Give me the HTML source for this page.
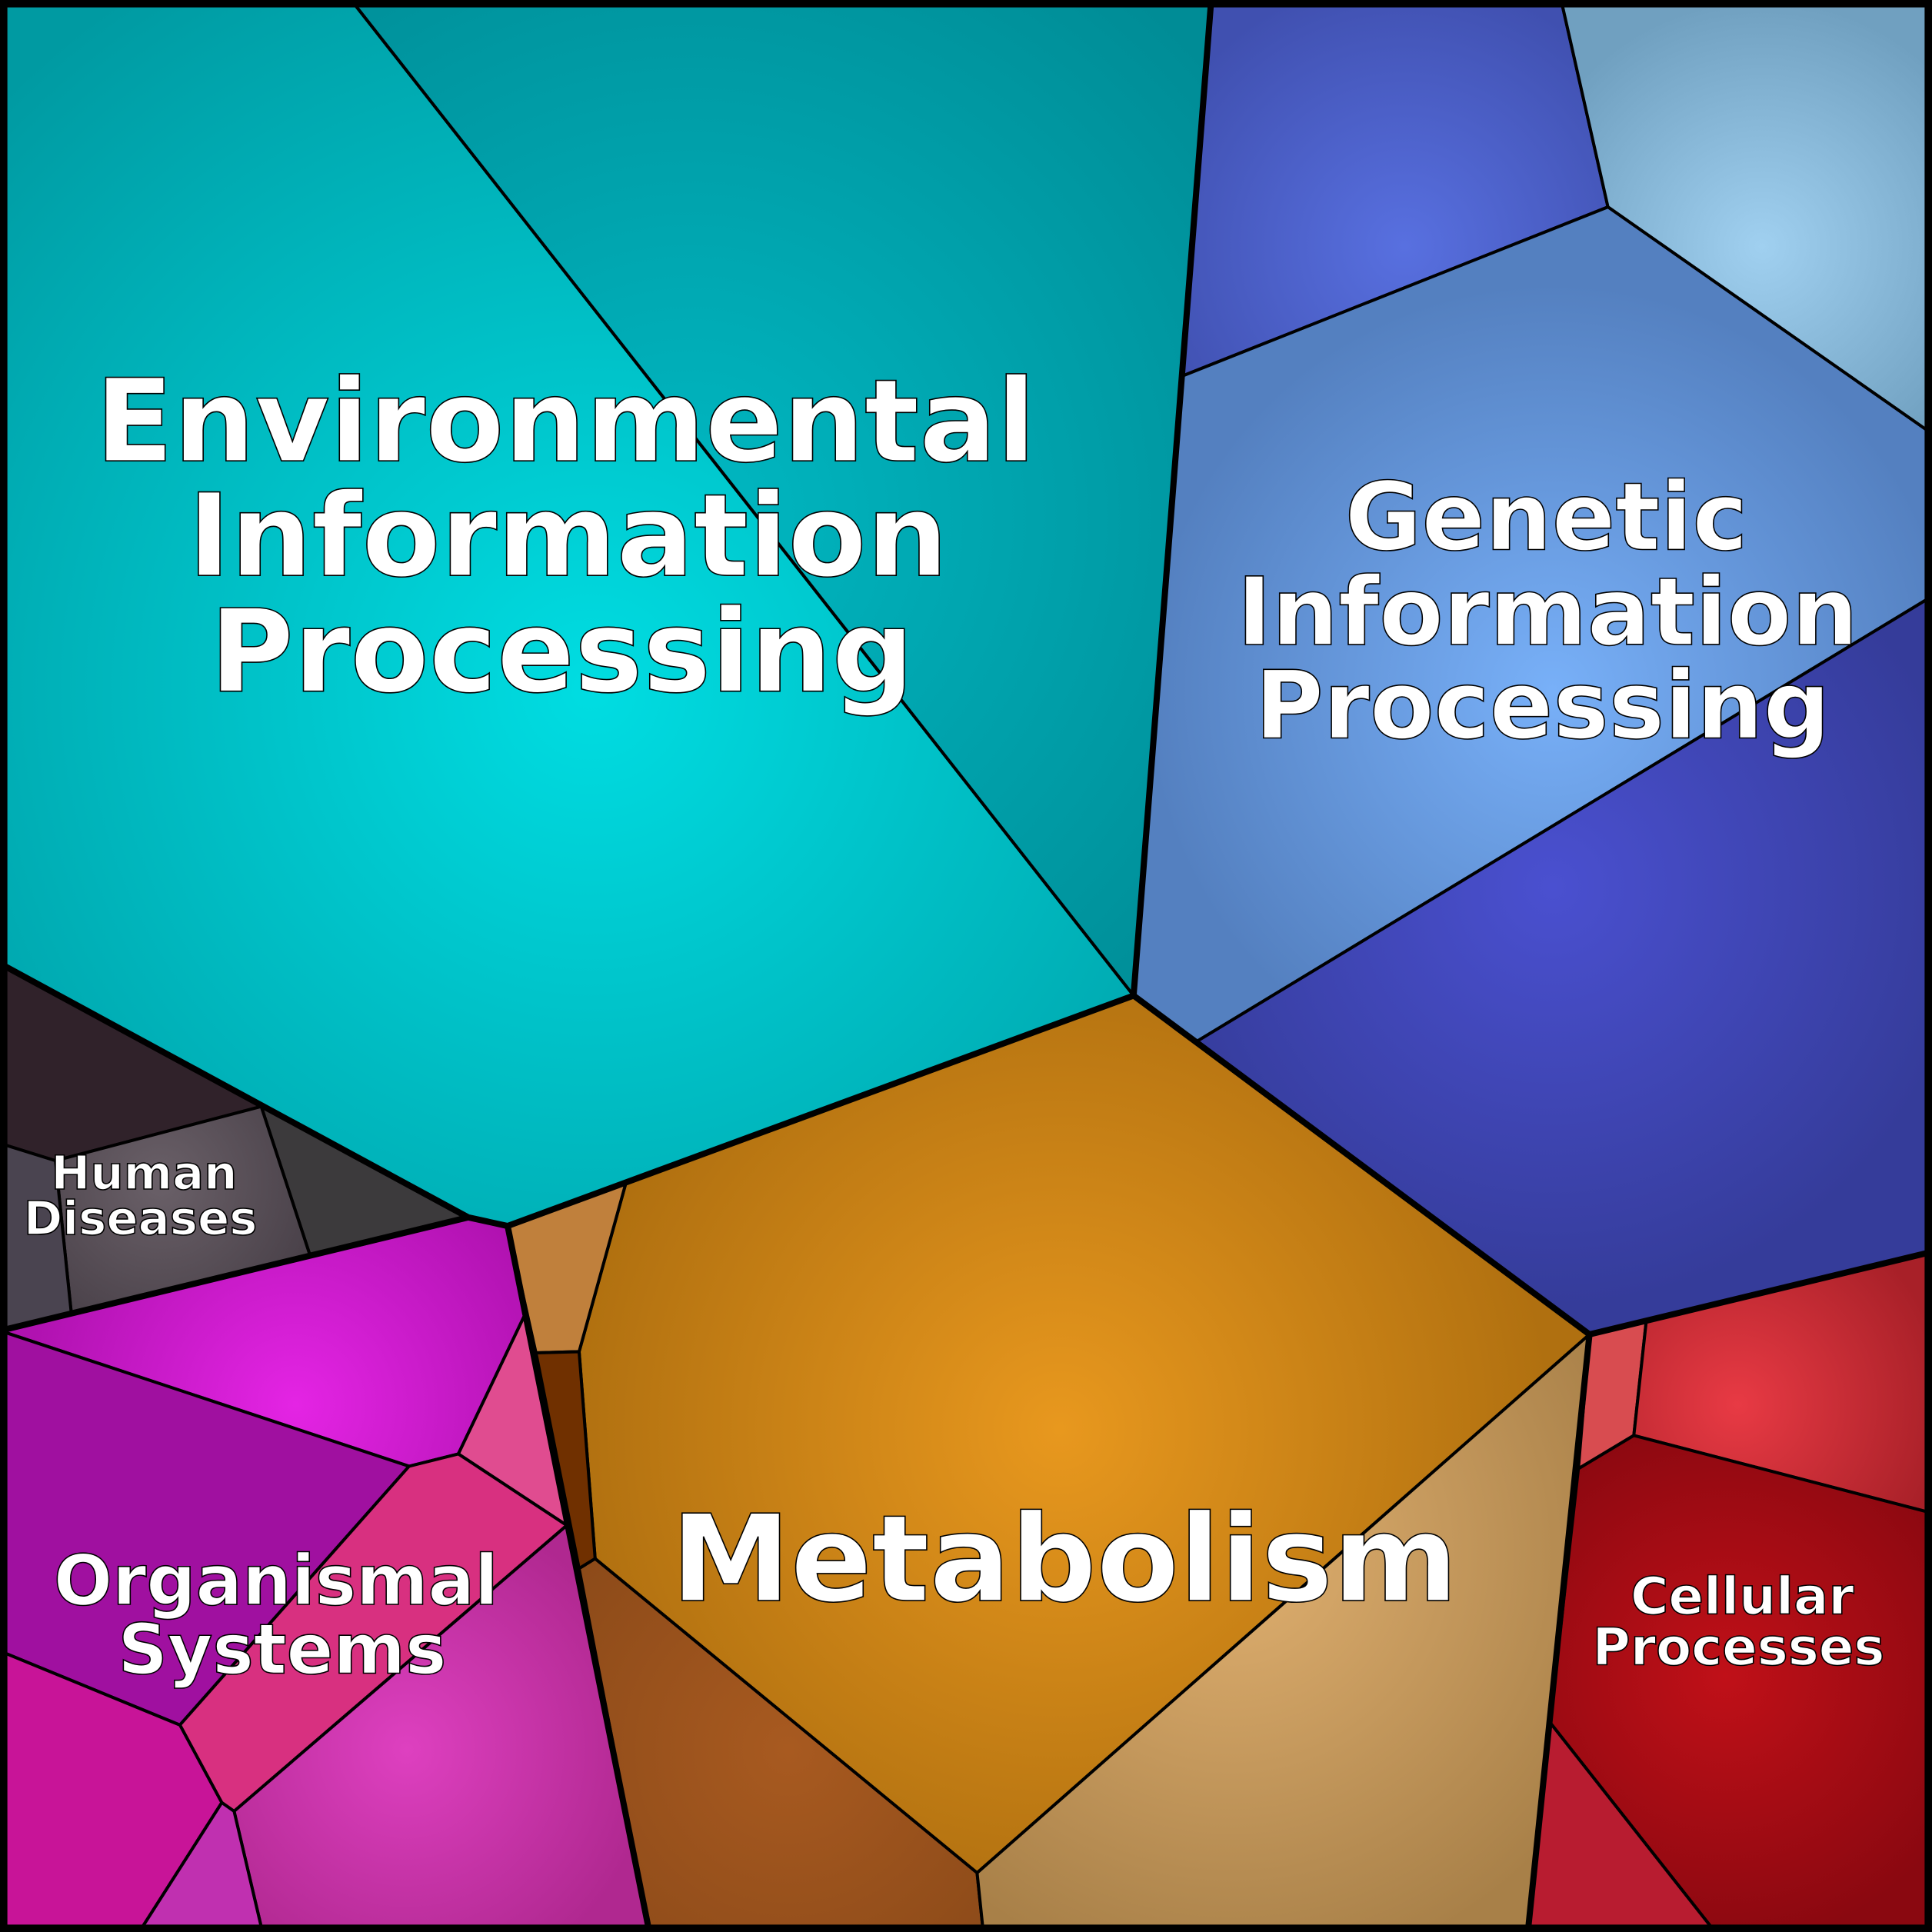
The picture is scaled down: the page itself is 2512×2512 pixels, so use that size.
<!DOCTYPE html>
<html><head><meta charset="utf-8"><style>html,body{margin:0;padding:0;background:#fff}svg{display:block}</style></head>
<body>
<svg width="2512" height="2512" viewBox="0 0 1568 1568" xmlns="http://www.w3.org/2000/svg">
<defs>
<radialGradient id="env" gradientUnits="userSpaceOnUse" cx="480" cy="560" r="680"><stop offset="0" stop-color="#00dde2"/><stop offset="1" stop-color="#009aa2"/></radialGradient>
<radialGradient id="env2" gradientUnits="userSpaceOnUse" cx="560" cy="420" r="560"><stop offset="0" stop-color="#00b8c2"/><stop offset="1" stop-color="#008c96"/></radialGradient>
<radialGradient id="g1" gradientUnits="userSpaceOnUse" cx="1140" cy="200" r="220"><stop offset="0" stop-color="#5870e0"/><stop offset="1" stop-color="#4050b0"/></radialGradient>
<radialGradient id="g2" gradientUnits="userSpaceOnUse" cx="1430" cy="200" r="200"><stop offset="0" stop-color="#a0d0f0"/><stop offset="1" stop-color="#70a0c0"/></radialGradient>
<radialGradient id="g3" gradientUnits="userSpaceOnUse" cx="1260" cy="560" r="330"><stop offset="0" stop-color="#78b0f8"/><stop offset="1" stop-color="#5480c0"/></radialGradient>
<radialGradient id="g4" gradientUnits="userSpaceOnUse" cx="1260" cy="720" r="340"><stop offset="0" stop-color="#4a50d0"/><stop offset="1" stop-color="#353c9a"/></radialGradient>
<radialGradient id="m1" gradientUnits="userSpaceOnUse" cx="860" cy="1160" r="400"><stop offset="0" stop-color="#e8981e"/><stop offset="1" stop-color="#b07010"/></radialGradient>
<radialGradient id="m4" gradientUnits="userSpaceOnUse" cx="1000" cy="1260" r="350"><stop offset="0" stop-color="#e0b070"/><stop offset="1" stop-color="#a88048"/></radialGradient>
<radialGradient id="m5" gradientUnits="userSpaceOnUse" cx="640" cy="1420" r="260"><stop offset="0" stop-color="#a85a20"/><stop offset="1" stop-color="#884818"/></radialGradient>
<radialGradient id="h1" gradientUnits="userSpaceOnUse" cx="130" cy="960" r="170"><stop offset="0" stop-color="#6a6068"/><stop offset="1" stop-color="#403840"/></radialGradient>
<radialGradient id="o1" gradientUnits="userSpaceOnUse" cx="240" cy="1140" r="220"><stop offset="0" stop-color="#e424e4"/><stop offset="1" stop-color="#b012b0"/></radialGradient>
<radialGradient id="o3" gradientUnits="userSpaceOnUse" cx="330" cy="1420" r="200"><stop offset="0" stop-color="#de40c0"/><stop offset="1" stop-color="#b02890"/></radialGradient>
<radialGradient id="c2" gradientUnits="userSpaceOnUse" cx="1410" cy="1140" r="170"><stop offset="0" stop-color="#e83a44"/><stop offset="1" stop-color="#a82028"/></radialGradient>
<radialGradient id="c3" gradientUnits="userSpaceOnUse" cx="1400" cy="1360" r="220"><stop offset="0" stop-color="#c01018"/><stop offset="1" stop-color="#8a0810"/></radialGradient>
</defs>
<g stroke="#000" stroke-width="2.5" stroke-linejoin="round">
<polygon fill="url(#env)" points="0,0 285,0 920,808 412,995 380,988 0,782"/>
<polygon fill="url(#env2)" points="285,0 983,0 920,808"/>
<polygon fill="url(#g1)" points="983,0 1267,0 1305,168 960,305"/>
<polygon fill="url(#g2)" points="1267,0 1568,0 1568,352 1305,168"/>
<polygon fill="url(#g3)" points="960,305 1305,168 1568,352 1568,484 970,846 920,808"/>
<polygon fill="url(#g4)" points="970,846 1568,484 1568,1016 1290,1083"/>
<polygon fill="url(#m1)" points="508,960 920,808 1290,1083 793,1520 483,1265 470,1097"/>
<polygon fill="#c0803c" points="412,995 508,960 470,1097 435,1098"/>
<polygon fill="#703000" points="435,1098 470,1097 483,1265 470,1273"/>
<polygon fill="url(#m5)" points="470,1273 483,1265 793,1520 798,1568 527,1568"/>
<polygon fill="url(#m4)" points="793,1520 1290,1083 1240,1568 798,1568"/>
<polygon fill="#30222a" points="0,782 212,898 45,942 0,928"/>
<polygon fill="#3c3a3c" points="212,898 380,988 252,1020"/>
<polygon fill="url(#h1)" points="45,942 212,898 252,1020 58,1067"/>
<polygon fill="#4a4450" points="0,928 45,942 58,1067 0,1080"/>
<polygon fill="url(#o1)" points="0,1080 380,988 412,995 426,1067 372,1180 332,1190"/>
<polygon fill="#e04c90" points="426,1067 460,1238 372,1180"/>
<polygon fill="#a010a0" points="0,1080 332,1190 146,1400 0,1340"/>
<polygon fill="#d83080" points="332,1190 372,1180 460,1238 190,1470 180,1463 146,1400"/>
<polygon fill="url(#o3)" points="190,1470 460,1238 527,1568 213,1568"/>
<polygon fill="#c81498" points="0,1340 146,1400 180,1463 113,1568 0,1568"/>
<polygon fill="#c030b0" points="180,1463 190,1470 213,1568 113,1568"/>
<polygon fill="#d84c50" points="1290,1083 1336,1073 1326,1165 1281,1192"/>
<polygon fill="url(#c2)" points="1336,1073 1568,1016 1568,1228 1326,1165"/>
<polygon fill="url(#c3)" points="1281,1192 1326,1165 1568,1228 1568,1568 1392,1568 1258,1398"/>
<polygon fill="#b81c30" points="1258,1398 1392,1568 1240,1568"/>
</g>
<g fill="none" stroke="#000" stroke-width="5" stroke-linejoin="round">
<polyline points="983,0 920,808 412,995 380,988 0,782"/>
<polyline points="920,808 1290,1083 1568,1016"/>
<polyline points="1290,1083 1240,1568"/>
<polyline points="412,995 527,1568"/>
<polyline points="0,1080 380,988"/>
<rect x="2.5" y="2.5" width="1563" height="1563" stroke-width="7"/>
</g>
<g font-family="'DejaVu Sans','Liberation Sans',sans-serif" font-weight="bold" fill="#fff" stroke="#000" stroke-width="1" text-anchor="middle">
<text font-size="93" x="459" y="374">Environmental</text>
<text font-size="93" x="461" y="467">Information</text>
<text font-size="93" x="456" y="561">Processing</text>
<text font-size="76" x="1255" y="446">Genetic</text>
<text font-size="76" x="1256" y="523">Information</text>
<text font-size="76" x="1252" y="599">Processing</text>
<text font-size="97.5" x="864" y="1299">Metabolism</text>
<text font-size="38" x="117" y="965">Human</text>
<text font-size="38" x="114" y="1002">Diseases</text>
<text font-size="56" x="224" y="1302">Organismal</text>
<text font-size="56" x="229" y="1358">Systems</text>
<text font-size="42" x="1414" y="1310">Cellular</text>
<text font-size="42" x="1411" y="1351">Processes</text>
</g>
</svg>
</body></html>
